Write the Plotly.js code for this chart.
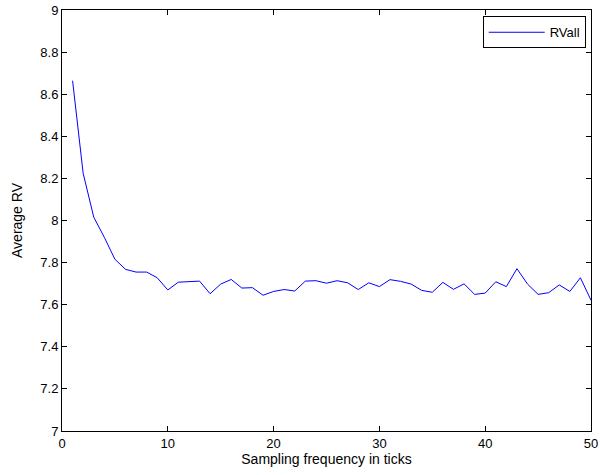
<!DOCTYPE html>
<html><head><meta charset="utf-8">
<script src="https://cdn.plot.ly/plotly-3.0.1.min.js"></script>
<style>body{margin:0;background:#fff}#c{width:600px;height:475px}</style>
</head><body><div id="c"></div>
<script>
const xs = [1,2,3,4,5,6,7,8,9,10,11,12,13,14,15,16,17,18,19,20,21,22,23,24,25,26,27,28,29,30,31,32,33,34,35,36,37,38,39,40,41,42,43,44,45,46,47,48,49,50];
const rvAll = [8.664,8.224,8.016,7.92,7.816,7.768,7.755,7.755,7.728,7.67,7.707,7.709,7.712,7.652,7.698,7.72,7.679,7.681,7.645,7.663,7.672,7.665,7.712,7.714,7.702,7.714,7.704,7.672,7.704,7.686,7.719,7.711,7.698,7.668,7.659,7.706,7.673,7.699,7.649,7.655,7.709,7.686,7.771,7.698,7.649,7.657,7.694,7.663,7.728,7.621];
const yTicks = [7,7.2,7.4,7.6,7.8,8,8.2,8.4,8.6,8.8,9];
const yTickText = ['7','7.2','7.4','7.6','7.8','8','8.2','8.4','8.6','8.8','9'];
const xTicks = [0,10,20,30,40,50];

const font = {family:'Liberation Sans, Arial, sans-serif', size:13, color:'#000'};
Plotly.newPlot('c', [{
  x: xs, y: rvAll, type:'scatter', mode:'lines', name:'RVall',
  line:{color:'#0000ff', width:1}
}], {
  width:600, height:475,
  margin:{l:62, r:9, t:10, b:44},
  paper_bgcolor:'#fff', plot_bgcolor:'#fff',
  font: font,
  showlegend:true,
  legend:{x:0.99, y:0.985, xanchor:'right', yanchor:'top', bordercolor:'#000', borderwidth:1, bgcolor:'#fff', font:{family:font.family,size:13}, itemwidth:56},
  xaxis:{range:[0,50], tickvals:xTicks, ticks:'inside', ticklen:5, tickcolor:'#000', showline:true, mirror:'ticks', linecolor:'#000', linewidth:1, showgrid:false, zeroline:false,
    title:{text:'Sampling frequency in ticks', font:{family:font.family,size:14}, standoff:4}, tickfont:{size:13}},
  yaxis:{range:[7,9], tickvals:yTicks, ticktext:yTickText, ticks:'inside', ticklen:5, tickcolor:'#000', showline:true, mirror:'ticks', linecolor:'#000', linewidth:1, showgrid:false, zeroline:false,
    title:{text:'Average RV', font:{family:font.family,size:14}, standoff:14}, tickfont:{size:13}}
}, {displayModeBar:false, staticPlot:true});
</script></body></html>
